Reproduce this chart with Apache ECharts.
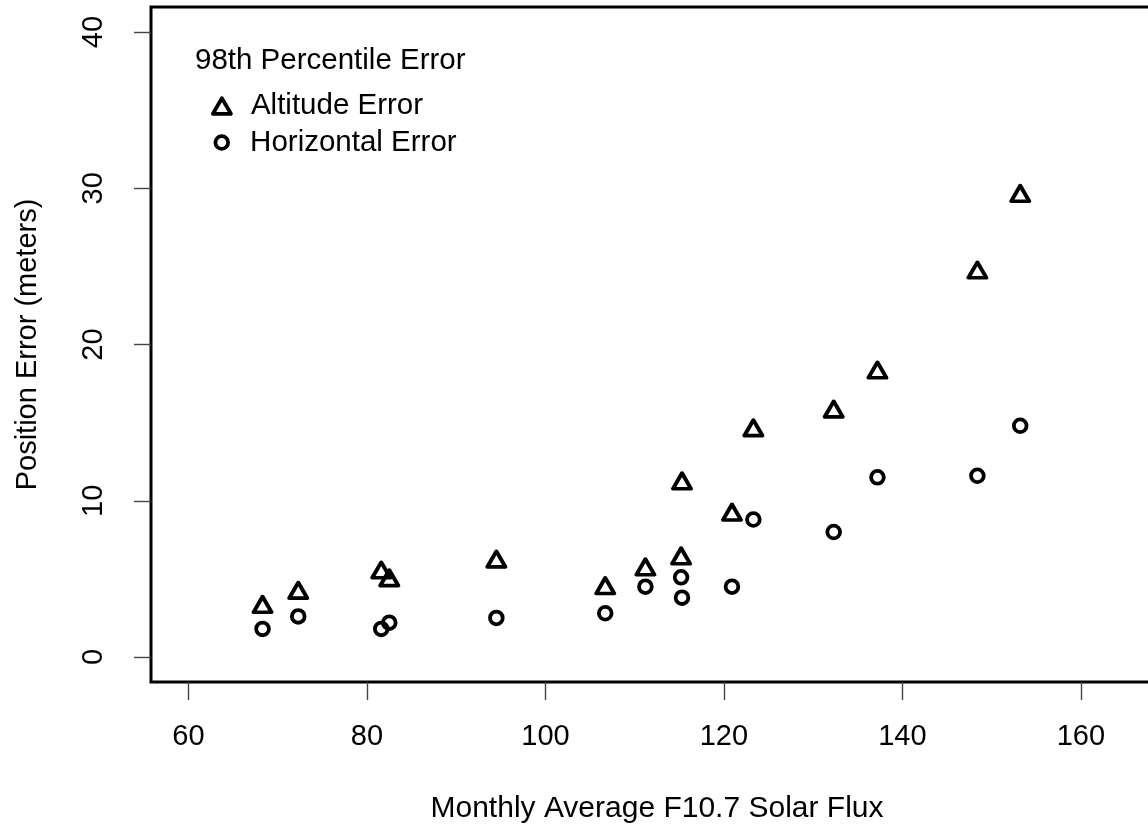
<!DOCTYPE html>
<html>
<head>
<meta charset="utf-8">
<script src="https://cdn.jsdelivr.net/npm/echarts@6/dist/echarts.min.js"></script>
<style>
  html, body { margin: 0; padding: 0; background: #fff; }
  #chart { width: 1148px; height: 825px; }
</style>
</head>
<body>
<div id="chart"></div>
<script>
// Data
const solarFlux = [68.3, 72.3, 81.6, 82.5, 94.5, 106.7, 111.2, 115.2, 115.3, 120.9, 123.3, 132.3, 137.2, 148.4, 153.2];
const altitudeError = [3.2, 4.1, 5.4, 4.9, 6.1, 4.4, 5.6, 6.3, 11.1, 9.1, 14.5, 15.7, 18.2, 24.6, 29.5];
const horizontalError = [1.8, 2.6, 1.8, 2.2, 2.5, 2.8, 4.5, 5.1, 3.8, 4.5, 8.8, 8.0, 11.5, 11.6, 14.8];
const xTicks = [60, 80, 100, 120, 140, 160];
const yTicks = [0, 10, 20, 30, 40];

const FONT = "'Liberation Sans', Arial, Helvetica, sans-serif";
const FS = 29;
const MARK_STYLE = { color: 'transparent', borderColor: '#000', borderWidth: 3.8, borderJoin: 'round', opacity: 1 };

const altData = solarFlux.map((x, i) => [x, altitudeError[i]]);
const horData = solarFlux.map((x, i) => [x, horizontalError[i]]);

const chart = echarts.init(document.getElementById('chart'), null, { renderer: 'canvas' });
chart.setOption({
  backgroundColor: '#ffffff',
  animation: false,
  textStyle: { fontFamily: FONT, color: '#000' },
  title: {
    text: '98th Percentile Error',
    left: 195,
    top: 46,
    padding: 0,
    textStyle: { fontFamily: FONT, fontSize: 29.5, fontWeight: 'normal', color: '#000' }
  },
  legend: [
    {
      data: [{ name: 'Altitude Error', icon: 'triangle', itemStyle: MARK_STYLE }],
      left: 211, top: 91,
      padding: 0,
      itemWidth: 18, itemHeight: 15.6,
      selectedMode: false,
      textStyle: { fontFamily: FONT, fontSize: 29.5, color: '#000', padding: [0, 0, 0, 15] }
    },
    {
      data: [{ name: 'Horizontal Error', icon: 'circle', itemStyle: MARK_STYLE }],
      left: 213.5, top: 127.5,
      padding: 0,
      itemWidth: 12.7, itemHeight: 12.7,
      selectedMode: false,
      textStyle: { fontFamily: FONT, fontSize: 29.5, color: '#000', padding: [0, 0, 0, 17] }
    }
  ],
  grid: {
    left: 151, top: 7, width: 1012, height: 675,
    show: true, borderColor: '#000', borderWidth: 3, backgroundColor: 'transparent',
    containLabel: false,
    outerBoundsMode: 'none'
  },
  xAxis: {
    type: 'value',
    min: 55.8, max: 169.2,
    name: 'Monthly Average F10.7 Solar Flux',
    nameLocation: 'middle',
    nameGap: 112,
    nameTextStyle: { fontFamily: FONT, fontSize: FS + 1, color: '#000' },
    axisLine: { show: false, onZero: false },
    splitLine: { show: false },
    axisTick: { show: true, inside: false, length: 18, customValues: xTicks,
                lineStyle: { color: '#444', width: 1.4 } },
    axisLabel: { show: true, customValues: xTicks, margin: 40,
                 fontFamily: FONT, fontSize: FS, color: '#000' }
  },
  yAxis: {
    type: 'value',
    min: -1.6, max: 41.6,
    name: 'Position Error (meters)',
    nameLocation: 'middle',
    nameGap: 109,
    nameRotate: 90,
    nameTextStyle: { fontFamily: FONT, fontSize: FS, color: '#000' },
    axisLine: { show: false, onZero: false },
    splitLine: { show: false },
    axisTick: { show: true, inside: false, length: 17, customValues: yTicks,
                lineStyle: { color: '#444', width: 1.4 } },
    axisLabel: { show: true, customValues: yTicks, margin: 43, rotate: 90,
                 fontFamily: FONT, fontSize: FS, color: '#000' }
  },
  series: [
    {
      name: 'Altitude Error',
      type: 'scatter',
      data: altData,
      symbol: 'triangle',
      symbolSize: [18, 15.6],
      symbolOffset: [0, -2.6],
      itemStyle: MARK_STYLE,
      emphasis: { disabled: true }
    },
    {
      name: 'Horizontal Error',
      type: 'scatter',
      data: horData,
      symbol: 'circle',
      symbolSize: 12.7,
      itemStyle: MARK_STYLE,
      emphasis: { disabled: true }
    }
  ]
});
</script>
</body>
</html>
